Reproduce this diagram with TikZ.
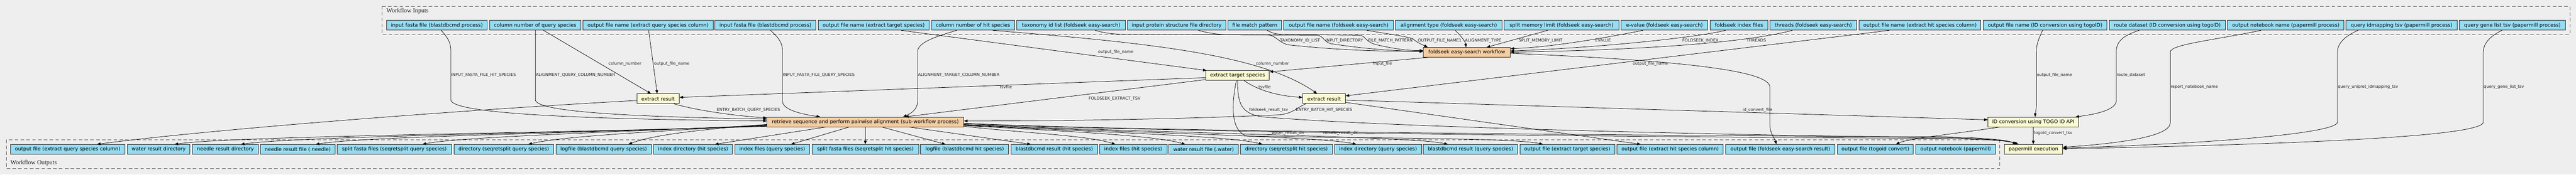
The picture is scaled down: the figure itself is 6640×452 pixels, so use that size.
\documentclass[tikz,border=0pt]{standalone}
\usepackage{fontspec}
\usetikzlibrary{arrows.meta}
\newfontfamily\dvs{DejaVu Sans}
\newfontfamily\lser{Liberation Serif}
\definecolor{bgc}{HTML}{EEEEEE}
\definecolor{inc}{HTML}{94DDF4}
\definecolor{yel}{HTML}{FAFAD2}
\definecolor{org}{HTML}{F5CDA2}
\definecolor{clc}{HTML}{555555}
\definecolor{brd}{HTML}{2A2A2A}
\definecolor{lbl}{HTML}{222222}
\begin{document}
\begin{tikzpicture}[x=1pt,y=-1pt,
 box/.style={draw=brd, line width=1.3pt, minimum height=25pt, inner xsep=2pt, inner ysep=0pt, font=\dvs\fontsize{12.9}{15}\selectfont, text=black},
 io/.style={box, fill=inc},
 stepy/.style={box, fill=yel},
 stepo/.style={box, fill=org},
 elab/.style={font=\dvs\fontsize{10.5}{12}\selectfont, inner sep=0pt, text=lbl},
 edge/.style={draw=black, line width=1pt, -{Triangle[length=9pt,width=7pt]}},
 clus/.style={draw=clc, line width=1.3pt, dash pattern=on 9pt off 6pt},
 clab/.style={font=\lser\fontsize{16}{18}\selectfont, inner sep=0pt, anchor=west, text=black!85}
]
\useasboundingbox (0,0) rectangle (6640,452);
\fill[bgc] (0,0) rectangle (6640,452);

% clusters
\draw[clus] (985,16) rectangle (6624,89);
\draw[clus] (16,362) rectangle (5155,436);
\node[clab] (lin) at (996,28) {Workflow Inputs};
\node[clab] (lout) at (27,422) {Workflow Outputs};

% inputs
\node[io, minimum width=260pt] (i1) at (1126,65.5) {input fasta file (blastdbcmd process)};
\node[io, minimum width=235pt] (i2) at (1379.5,65.5) {column number of query species};
\node[io, minimum width=335pt] (i3) at (1670.5,65.5) {output file name (extract query species column)};
\node[io, minimum width=260pt] (i4) at (1973,65.5) {input fasta file (blastdbcmd process)};
\node[io, minimum width=286pt] (i5) at (2252,65.5) {output file name (extract target species)};
\node[io, minimum width=214pt] (i6) at (2508,65.5) {column number of hit species};
\node[io, minimum width=280pt] (i7) at (2761,65.5) {taxonomy id list (foldseek easy-search)};
\node[io, minimum width=254pt] (i8) at (3033,65.5) {input protein structure file directory};
\node[io, minimum width=139pt] (i9) at (3234.5,65.5) {file match pattern};
\node[io, minimum width=283pt] (i10) at (3450.5,65.5) {output file name (foldseek easy-search)};
\node[io, minimum width=275pt] (i11) at (3734.5,65.5) {alignment type (foldseek easy-search)};
\node[io, minimum width=296pt] (i12) at (4025,65.5) {split memory limit (foldseek easy-search)};
\node[io, minimum width=223pt] (i13) at (4290.5,65.5) {e-value (foldseek easy-search)};
\node[io, minimum width=149pt] (i14) at (4482.5,65.5) {foldseek index files};
\node[io, minimum width=224pt] (i15) at (4674,65.5) {threads (foldseek easy-search)};
\node[io, minimum width=314pt] (i16) at (4949,65.5) {output file name (extract hit species column)};
\node[io, minimum width=319pt] (i17) at (5271.5,65.5) {output file name (ID conversion using togoID)};
\node[io, minimum width=299pt] (i18) at (5586.5,65.5) {route dataset (ID conversion using togoID)};
\node[io, minimum width=300pt] (i19) at (5892,65.5) {output notebook name (papermill process)};
\node[io, minimum width=287pt] (i20) at (6190.5,65.5) {query idmapping tsv (papermill process)};
\node[io, minimum width=274pt] (i21) at (6476,65.5) {query gene list tsv (papermill process)};

% outputs
\node[io, minimum width=295pt] (o1) at (174.5,386.5) {output file (extract query species column)};
\node[io, minimum width=162pt] (o2) at (409,386.5) {water result directory};
\node[io, minimum width=170pt] (o3) at (581,386.5) {needle result directory};
\node[io, minimum width=193pt] (o4) at (767.5,386.5) {needle result file (.needle)};
\node[io, minimum width=295pt] (o5) at (1016.5,386.5) {split fasta files (seqretsplit query species)};
\node[io, minimum width=257pt] (o6) at (1298.5,386.5) {directory (seqretsplit query species)};
\node[io, minimum width=246pt] (o7) at (1556,386.5) {logfile (blastdbcmd query species)};
\node[io, minimum width=203pt] (o8) at (1786.5,386.5) {index directory (hit species)};
\node[io, minimum width=193pt] (o9) at (1990.5,386.5) {index files (query species)};
\node[io, minimum width=275pt] (o10) at (2230.5,386.5) {split fasta files (seqretsplit hit species)};
\node[io, minimum width=227pt] (o11) at (2486.5,386.5) {logfile (blastdbcmd hit species)};
\node[io, minimum width=223pt] (o12) at (2717.5,386.5) {blastdbcmd result (hit species)};
\node[io, minimum width=174pt] (o13) at (2921,386.5) {index files (hit species)};
\node[io, minimum width=179pt] (o14) at (3102.5,386.5) {water result file (.water)};
\node[io, minimum width=238pt] (o15) at (3316,386.5) {directory (seqretsplit hit species)};
\node[io, minimum width=224pt] (o16) at (3552,386.5) {index directory (query species)};
\node[io, minimum width=243pt] (o17) at (3790.5,386.5) {blastdbcmd result (query species)};
\node[io, minimum width=244pt] (o18) at (4040,386.5) {output file (extract target species)};
\node[io, minimum width=274pt] (o19) at (4305,386.5) {output file (extract hit species column)};
\node[io, minimum width=282pt] (o20) at (4589,386.5) {output file (foldseek easy-search result)};
\node[io, minimum width=196pt] (o21) at (4834,386.5) {output file (togoid convert)};
\node[io, minimum width=206pt] (o22) at (5041,386.5) {output notebook (papermill)};

% steps
\node[stepy, minimum width=109pt] (E1) at (1696.5,255.5) {extract result};
\node[stepo, minimum width=507pt] (RT) at (2230.5,315.5) {retrieve sequence and perform pairwise alignment (sub-workflow process)};
\node[stepy, minimum width=164pt] (ETS) at (3190,195.5) {extract target species};
\node[stepy, minimum width=110pt] (E2) at (3413,255.5) {extract result};
\node[stepo, minimum width=224pt] (FS) at (3781,135.5) {foldseek easy-search workflow};
\node[stepy, minimum width=234pt] (TG) at (5241,315.5) {ID conversion using TOGO ID API};
\node[stepy, minimum width=151pt] (PM) at (5241.5,386.5) {papermill execution};

% input -> step edges
\draw[edge] (i1.south -| 1137,0) .. controls (1155,98) and (1162,110) .. (1162,132) -- (1162,258) .. controls (1162,292) and (1450,308) .. (RT.west |- 0,313);
\draw[edge] (i2.south -| 1380,0) -- (1380,258) .. controls (1380,288) and (1600,302) .. (RT.west |- 0,308);
\draw[edge] (i2.south -| 1401,0) -- (E1.north -| 1678,0);
\draw[edge] (i3.south -| 1672,0) -- (E1.north -| 1694,0);
\draw[edge] (i4.south -| 1986,0) .. controls (2008,98) and (2017,112) .. (2017,132) -- (2017,262) .. controls (2017,285) and (2070,296) .. (RT.north -| 2114,0);
\draw[edge] (i5.south -| 2323,0) -- (ETS.north -| 3110,0);
\draw[edge] (i6.south -| 2466,0) .. controls (2400,98) and (2365,112) .. (2365,135) -- (2365,263) .. controls (2365,285) and (2345,295) .. (RT.north -| 2328,0);
\draw[edge] (i6.south -| 2559,0) .. controls (2950,110) and (3250,140) .. (E2.north -| 3395,0);
\draw[edge] (i7.south -| 2823,0) .. controls (2850,87) and (2880,89) .. (2910,89) -- (3265,90) .. controls (3290,91) and (3292,108) .. (3320,116) .. controls (3450,130) and (3560,133) .. (FS.west |- 0,133);
\draw[edge] (i8.south -| 3089,0) .. controls (3120,87) and (3140,89) .. (3170,90) -- (3395,91) .. controls (3412,93) and (3412,108) .. (3430,113) .. controls (3520,127) and (3600,132) .. (FS.west |- 0,133);
\draw[edge] (i9.south -| 3266,0) .. controls (3280,86) and (3290,89) .. (3310,89) -- (3505,91) .. controls (3520,93) and (3520,108) .. (3545,115) .. controls (3590,126) and (3630,131) .. (FS.west |- 0,131);
\draw[edge] (i10.south -| 3523,0) .. controls (3580,88) and (3630,95) .. (3643,101) .. controls (3652,110) and (3665,115) .. (FS.north -| 3680,0);
\draw[edge] (i11.south -| 3751,0) .. controls (3768,95) and (3777,108) .. (FS.north -| 3779,0);
\draw[edge] (i12.south -| 3989,0) -- (FS.north -| 3832,0);
\draw[edge] (i13.south -| 4235,0) .. controls (4100,105) and (3990,122) .. (FS.east |- 0,126);
\draw[edge] (i14.south -| 4448,0) .. controls (4380,95) and (4150,122) .. (FS.east |- 0,132);
\draw[edge] (i15.south -| 4620,0) .. controls (4520,105) and (4300,128) .. (FS.east |- 0,135);
\draw[edge] (i16.south -| 4870,0) -- (E2.east |- 0,248);
\draw[edge] (i17.south -| 5265,0) .. controls (5255,100) and (5249,115) .. (5249,133) -- (5249,265) .. controls (5249,285) and (5246,295) .. (TG.north -| 5246,0);
\draw[edge] (i18.south -| 5514,0) .. controls (5470,92) and (5455,110) .. (5455,133) -- (5455,260) .. controls (5455,285) and (5400,296) .. (TG.north -| 5350,0);
\draw[edge] (i19.south -| 5828,0) .. controls (5700,105) and (5594,115) .. (5594,135) -- (5594,318) .. controls (5594,355) and (5450,372) .. (PM.east |- 0,381);
\draw[edge] (i20.south -| 6078,0) .. controls (6040,95) and (6025,115) .. (6025,135) -- (6025,316) .. controls (6025,345) and (5700,372) .. (PM.east |- 0,383);
\draw[edge] (i21.south -| 6449,0) .. controls (6415,95) and (6401,115) .. (6401,135) -- (6401,316) .. controls (6401,350) and (6000,372) .. (PM.east |- 0,385);

% step -> step edges
\draw[edge] (FS.south -| 3680,0) -- (ETS.east |- 0,186);
\draw[edge] (ETS.west |- 0,201) -- (E1.east |- 0,252);
\draw[edge] (ETS.south -| 3207,0) .. controls (3240,232) and (3290,248) .. (E2.west |- 0,252);
\draw[edge] (ETS.west |- 0,206) -- (RT.north -| 2333,0);
\draw[edge] (E1.south -| 1737,0) .. controls (1800,287) and (1900,300) .. (RT.west |- 0,305);
\draw[edge] (E2.south -| 3366,0) .. controls (3340,280) and (3335,292) .. (3300,297) .. controls (3000,310) and (2700,313) .. (RT.east |- 0,313);
\draw[edge] (E2.east |- 0,259) -- (TG.west |- 0,310);
\draw[edge] (ETS.south -| 3190,0) .. controls (3190,270) and (3200,292) .. (3250,302) .. controls (3600,332) and (4600,352) .. (5000,356) .. controls (5110,358) and (5175,363) .. (PM.north -| 5200,0);
\draw[edge] (TG.south -| 5241,0) -- (PM.north -| 5241,0);
\draw[edge] (RT.east |- 0,319) .. controls (3000,343) and (4500,352) .. (5000,354) .. controls (5110,356) and (5175,362) .. (PM.north -| 5197,0);
\draw[edge] (RT.east |- 0,320) .. controls (3100,346) and (4500,356) .. (5000,358) .. controls (5110,360) and (5178,364) .. (PM.north -| 5203,0);

% step -> output edges
\draw[edge] (E1.west |- 0,260) .. controls (1100,290) and (500,340) .. (o1.north -| 250,0);
\draw[edge] (RT.west |- 0,327) .. controls (1400,345) and (600,352) .. (o2.north -| 450,0);
\draw[edge] (RT.west |- 0,326) .. controls (1450,345) and (780,352) .. (o3.north -| 621,0);
\draw[edge] (RT.west |- 0,325) .. controls (1500,345) and (950,352) .. (o4.north -| 814,0);
\draw[edge] (RT.west |- 0,324) .. controls (1550,343) and (1180,355) .. (o5.north -| 1089,0);
\draw[edge] (RT.west |- 0,323) .. controls (1700,340) and (1450,352) .. (o6.north -| 1362,0);
\draw[edge] (RT.west |- 0,322) .. controls (1800,335) and (1680,350) .. (o7.north -| 1620,0);
\draw[edge] (RT.south -| 2129,0) -- (o8.north -| 1843,0);
\draw[edge] (RT.south -| 2189,0) -- (o9.north -| 2039,0);
\draw[edge] (RT.south -| 2230.5,0) -- (o10.north);
\draw[edge] (RT.south -| 2273,0) -- (o11.north -| 2437,0);
\draw[edge] (RT.south -| 2343,0) -- (o12.north -| 2657,0);
\draw[edge] (RT.east |- 0,327) .. controls (2650,345) and (2800,350) .. (o13.north -| 2875,0);
\draw[edge] (RT.east |- 0,325) .. controls (2800,342) and (2980,352) .. (o14.north -| 3055,0);
\draw[edge] (RT.east |- 0,324) .. controls (2900,345) and (3170,352) .. (o15.north -| 3254,0);
\draw[edge] (RT.east |- 0,323) .. controls (3000,347) and (3400,353) .. (o16.north -| 3496,0);
\draw[edge] (RT.east |- 0,322) .. controls (3100,348) and (3640,353) .. (o17.north -| 3732,0);
\draw[edge] (ETS.south -| 3187,0) .. controls (3172,280) and (3175,342) .. (3215,352) .. controls (3500,358) and (3900,356) .. (o18.north -| 3977,0);
\draw[edge] (E2.east |- 0,265) -- (o19.north -| 4229,0);
\draw[edge] (FS.east |- 0,138) .. controls (4300,155) and (4562,180) .. (4562,225) -- (4562,322) .. controls (4562,345) and (4575,360) .. (o20.north -| 4579,0);
\draw[edge] (TG.south -| 5155,0) .. controls (5050,345) and (4920,358) .. (o21.north -| 4887,0);

% edge labels
\node[elab, anchor=west] (l1) at (1163,195) {INPUT\_FASTA\_FILE\_HIT\_SPECIES};
\node[elab, anchor=west] (l2) at (1381,195) {ALIGNMENT\_QUERY\_COLUMN\_NUMBER};
\node[elab] (l3) at (1611,165) {column\_number};
\node[elab, anchor=west] (l4) at (1686,165) {output\_file\_name};
\node[elab, anchor=west] (l5) at (2018,195) {INPUT\_FASTA\_FILE\_QUERY\_SPECIES};
\node[elab] (l6) at (1929,285) {ENTRY\_BATCH\_QUERY\_SPECIES};
\node[elab] (l7) at (2593,225) {tsvfile};
\node[elab, anchor=west] (l8) at (2366,195) {ALIGNMENT\_TARGET\_COLUMN\_NUMBER};
\node[elab] (l9) at (2876,135) {output\_file\_name};
\node[elab] (l10) at (2873,255) {FOLDSEEK\_EXTRACT\_TSV};
\node[elab] (l11) at (3280,165) {column\_number};
\node[elab] (l12) at (3260,225) {tsvfile};
\node[elab] (l13) at (3270,285) {foldseek\_result\_tsv};
\node[elab] (l14) at (3320,344) {water\_result\_dir};
\node[elab] (l15) at (3351,105) {TAXONOMY\_ID\_LIST};
\node[elab] (l16) at (3465,105) {INPUT\_DIRECTORY};
\node[elab] (l17) at (3584,105) {FILE\_MATCH\_PATTERN};
\node[elab] (l18) at (3711,105) {OUTPUT\_FILE\_NAME1};
\node[elab] (l19) at (3823,105) {ALIGNMENT\_TYPE};
\node[elab] (l20) at (3564,165) {input\_file};
\node[elab] (l21) at (3413,285) {ENTRY\_BATCH\_HIT\_SPECIES};
\node[elab] (l22) at (3456,344) {needle\_result\_dir};
\node[elab] (l23) at (3971,105) {SPLIT\_MEMORY\_LIMIT};
\node[elab] (l24) at (4132,105) {EVALUE};
\node[elab] (l25) at (4254,165) {output\_file\_name};
\node[elab] (l26) at (4383,105) {FOLDSEEK\_INDEX};
\node[elab] (l27) at (4527,105) {THREADS};
\node[elab] (l28) at (4530,285) {id\_convert\_file};
\node[elab, anchor=west] (l29) at (5250,195) {output\_file\_name};
\node[elab, anchor=west] (l30) at (5456,195) {route\_dataset};
\node[elab, anchor=west] (l31) at (5242,344) {togoid\_convert\_tsv};
\node[elab, anchor=west] (l32) at (5595,225) {report\_notebook\_name};
\node[elab, anchor=west] (l33) at (6026,225) {query\_uniprot\_idmapping\_tsv};
\node[elab, anchor=west] (l34) at (6402,225) {query\_gene\_list\_tsv};
\end{tikzpicture}
\end{document}
